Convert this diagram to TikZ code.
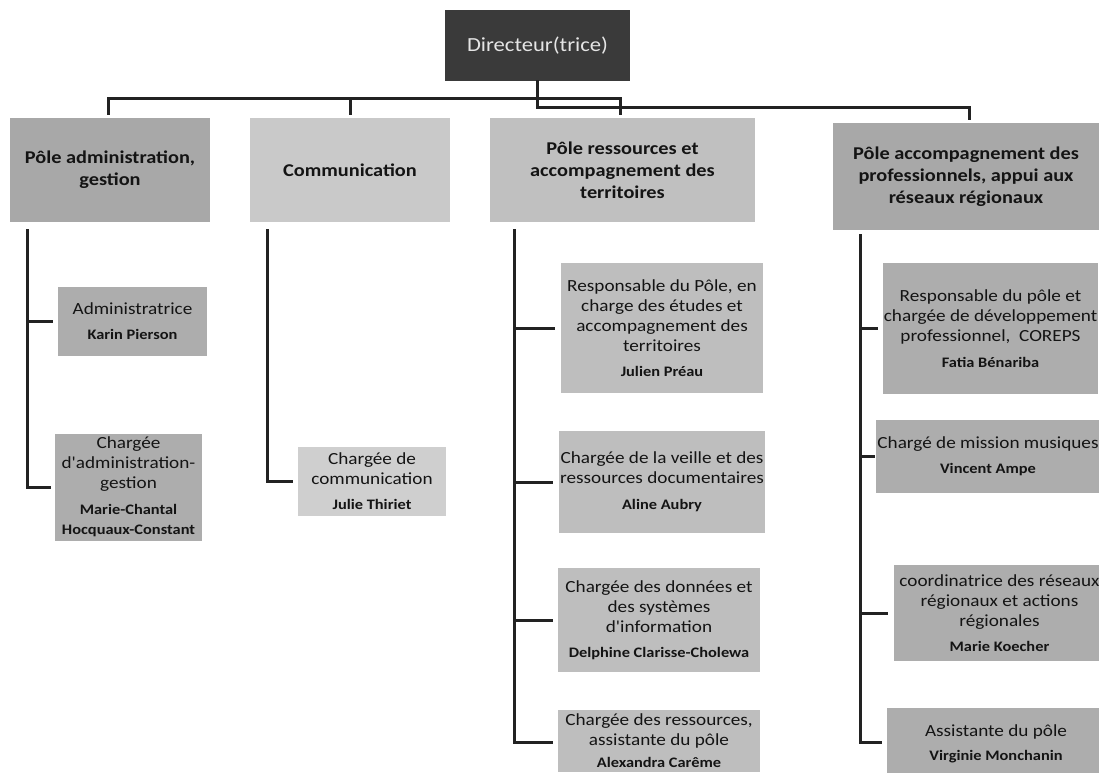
\documentclass[tikz,border=0pt]{standalone}
\usepackage{fontspec}
\newfontfamily\carl[FakeStretch=1.13]{Carlito}
\usetikzlibrary{calc}
\definecolor{dirfill}{HTML}{3A3A3A}
\definecolor{hdA}{HTML}{A8A8A8}
\definecolor{hdB}{HTML}{C9C9C9}
\definecolor{hdC}{HTML}{C0C0C0}
\definecolor{sbA}{HTML}{ADADAD}
\definecolor{sbB}{HTML}{CFCFCF}
\definecolor{sbC}{HTML}{BEBEBE}
\definecolor{ink}{HTML}{141414}
\definecolor{linec}{HTML}{222222}
\newcommand{\nmf}{\carl\bfseries\fontsize{14.5}{18}\selectfont}
\tikzset{
  base/.style={draw=none, inner sep=1pt, align=center, text=ink},
  dirbox/.style={base, fill=dirfill, text=white!90!black, font=\carl\fontsize{20}{22}\selectfont},
  hdr/.style={base, font=\carl\bfseries\fontsize{18}{22}\selectfont},
  sub/.style={base, font=\carl\fontsize{17}{20}\selectfont},
  conn/.style={draw=linec, line width=3pt, line cap=rect, line join=miter},
}
\begin{document}
\begin{tikzpicture}[x=1pt,y=-1pt]
\useasboundingbox (0,0) rectangle (1099,772);
\fill[white] (0,0) rectangle (1099,772);
% director
\node[dirbox, minimum width=185pt, minimum height=71pt] (dir) at (537.5,45.5) {Directeur(trice)};
% headers
\node[hdr, fill=hdA, minimum width=200pt, minimum height=104pt] (h1) at (110,170) {Pôle administration,\\gestion};
\node[hdr, fill=hdB, minimum width=200pt, minimum height=104pt] (h2) at (350,170) {Communication};
\node[hdr, fill=hdC, minimum width=265pt, minimum height=104pt] (h3) at (622.5,170) {Pôle ressources et\\accompagnement des\\territoires};
\node[hdr, fill=hdA, minimum width=266pt, minimum height=107pt] (h4) at (966,176.5) {Pôle accompagnement des\\professionnels, appui aux\\réseaux régionaux};
% column 1
\node[sub, fill=sbA, minimum width=149pt, minimum height=69pt] (a1) at (132.5,321.5) {Administratrice\\[5pt]\nmf Karin Pierson};
\node[sub, fill=sbA, minimum width=147pt, minimum height=107pt] (a2) at (128.5,487) {Chargée\\d'administration-\\gestion\\[6pt]\nmf Marie-Chantal\\\nmf Hocquaux-Constant};
% column 2
\node[sub, fill=sbB, minimum width=148pt, minimum height=69pt] (c1) at (372,481.5) {Chargée de\\communication\\[5pt]\nmf Julie Thiriet};
% column 3
\node[sub, fill=sbC, minimum width=202pt, minimum height=130pt] (r1) at (662,328) {Responsable du Pôle, en\\charge des études et\\accompagnement des\\territoires\\[5pt]\nmf Julien Préau};
\node[sub, fill=sbC, minimum width=202pt, minimum height=102pt] (r2) at (662,482) {Chargée de la veille et des\\ressources documentaires\\[6pt]\nmf Aline Aubry};
\node[sub, fill=sbC, minimum width=202pt, minimum height=104pt] (r3) at (659,620) {Chargée des données et\\des systèmes\\d'information\\[5pt]\nmf Delphine Clarisse-Cholewa};
\node[sub, fill=sbC, minimum width=202pt, minimum height=62pt] (r4) at (659,741) {Chargée des ressources,\\assistante du pôle\\[2pt]\nmf Alexandra Carême};
% column 4
\node[sub, fill=sbA, minimum width=211pt, minimum height=131pt] (p1) at (990.5,328.5) {Responsable du pôle et\\chargée de développement\\professionnel,\ \ COREPS\\[6pt]\nmf Fatia Bénariba};
\node[sub, fill=sbA, minimum width=212pt, minimum height=73pt] (p2) at (988,456.5) {Chargé de mission musiques\\[5pt]\nmf Vincent Ampe};
\node[sub, fill=sbA, minimum width=211pt, minimum height=96pt] (p3) at (999.5,613) {coordinatrice des réseaux\\régionaux et actions\\régionales\\[5pt]\nmf Marie Koecher};
\node[sub, fill=sbA, minimum width=218pt, minimum height=72pt] (p4) at (996,744) {Assistante du pôle\\[4pt]\nmf Virginie Monchanin};
% top connectors
\coordinate (bus1) at (0,98);
\coordinate (bus2) at (0,107);
\coordinate (t1) at (108,113);
\coordinate (t2) at (350,113);
\coordinate (t3) at (620,113);
\coordinate (t4) at (969,118);
\draw[conn] (t1) |- (t3 |- bus1) -- (t3);
\draw[conn] (t2) -- (t2 |- bus1);
\draw[conn] (dir.south) -- (dir.south |- bus2) -| (t4);
% column connectors
\coordinate (v1) at (27,230);
\coordinate (v2) at (267,230);
\coordinate (v3) at (514,230);
\coordinate (v4) at (860,235);
\draw[conn] (v1) |- ([xshift=-5pt]a2.west);
\draw[conn] (v1 |- a1.west) -- ([xshift=-6pt]a1.west);
\draw[conn] (v2) |- ([xshift=-6pt]c1.west);
\draw[conn] (v3) |- ([shift={(-6,1)}]r4.west);
\draw[conn] (v3 |- r1.west) -- ([xshift=-7pt]r1.west);
\draw[conn] (v3 |- r2.west) -- ([xshift=-7pt]r2.west);
\draw[conn] (v3 |- r3.west) -- ([xshift=-6pt]r3.west);
\draw[conn] (v4) |- ([shift={(-6,-2)}]p4.west);
\draw[conn] (v4 |- p1.west) -- ([xshift=-6pt]p1.west);
\draw[conn] (v4 |- p2.west) -- ([xshift=-3pt]p2.west);
\draw[conn] (v4 |- p3.west) -- ([xshift=-7pt]p3.west);
\end{tikzpicture}
\end{document}
